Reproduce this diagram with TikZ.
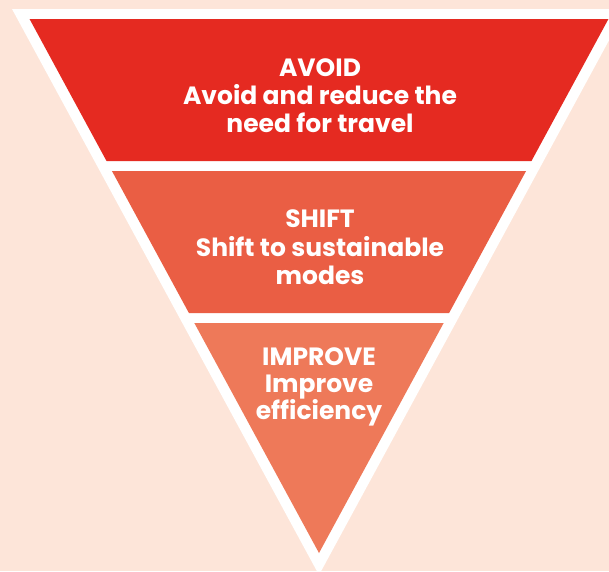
\documentclass[tikz,border=0pt]{standalone}
\usepackage{fontspec}
\setmainfont{Poppins}
\definecolor{bgpeach}{RGB}{253,229,217}
\definecolor{bandA}{RGB}{229,42,33}
\definecolor{bandB}{RGB}{234,94,68}
\definecolor{bandC}{RGB}{238,121,89}
\tikzset{
  lbl/.style={anchor=base, text=white, inner sep=0pt,
    font=\fontsize{25}{28}\selectfont\bfseries}
}
\begin{document}
\begin{tikzpicture}[x=1pt,y=-1pt]
\useasboundingbox (0,0) rectangle (609,571);
\fill[bgpeach] (0,0) rectangle (609,571);
\begin{scope}
\clip (0,0) rectangle (609,571);
% outer white triangle
\fill[white] (12,9) -- (626,9) -- (319,575) -- cycle;
% bands (inner triangle: half-width = (553-y)*0.542)
\fill[bandA] ({319-(553-19)*0.542},19) -- ({319+(553-19)*0.542},19)
  -- ({319+(553-161)*0.542},161) -- ({319-(553-161)*0.542},161) -- cycle;
\fill[bandB] ({319-(553-171)*0.542},171) -- ({319+(553-171)*0.542},171)
  -- ({319+(553-313)*0.542},313) -- ({319-(553-313)*0.542},313) -- cycle;
\fill[bandC] ({319-(553-323)*0.542},323) -- ({319+(553-323)*0.542},323)
  -- (319,553) -- cycle;
\end{scope}
% texts
\node[lbl] (a1) at (320,76) {AVOID};
\node[lbl] (a2) at (320,104) {Avoid and reduce the};
\node[lbl] (a3) at (320,132) {need for travel};
\node[lbl] (b1) at (320,227) {SHIFT};
\node[lbl] (b2) at (320,256) {Shift to sustainable};
\node[lbl] (b3) at (320,284) {modes};
\node[lbl] (c1) at (319,365) {IMPROVE};
\node[lbl] (c2) at (319,392) {Improve};
\node[lbl] (c3) at (319,419) {efficiency};
\end{tikzpicture}
\end{document}
